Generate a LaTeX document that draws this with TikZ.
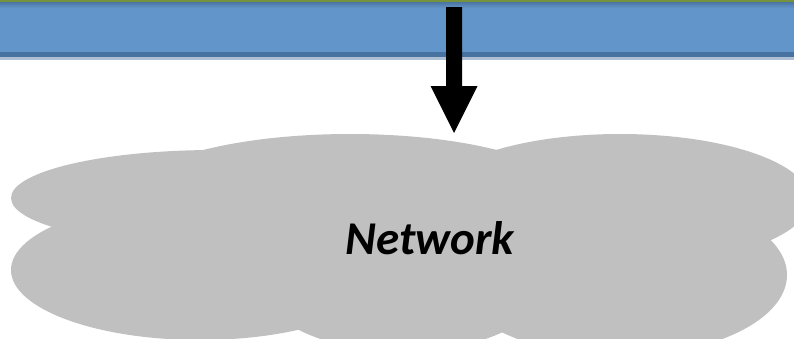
\documentclass[tikz,border=0pt]{standalone}
\usepackage{fontspec}
\setmainfont{Carlito}
\definecolor{cloudgray}{RGB}{191,192,191}
\definecolor{barblue}{RGB}{98,149,201}
\definecolor{bardark}{RGB}{72,114,160}
\definecolor{barlight}{RGB}{176,192,212}
\definecolor{olive}{RGB}{118,146,60}
\tikzset{
  lobe/.style={fill=cloudgray, draw=none},
  arrowfill/.style={fill=black, draw=none},
  labeltext/.style={font=\fontsize{47}{54}\selectfont\bfseries\itshape, text=black, inner sep=0pt, anchor=base}
}
\begin{document}
\begin{tikzpicture}[x=1pt,y=-1pt]
\useasboundingbox (0,0) rectangle (794,338);
\clip (0,0) rectangle (794,338);
% bar
\fill[barlight] (0,0) rectangle (794,59.5);
\fill[bardark] (0,0) rectangle (794,57);
\fill[barblue] (0,8) rectangle (794,51.5);
\shade[top color=bardark, bottom color=barblue] (0,1.5) rectangle (794,8);
\fill[olive] (0,0) rectangle (794,1.6);
% cloud
\fill[lobe] (215,198) ellipse [x radius=204pt, y radius=48pt];
\fill[lobe] (350,200) ellipse [x radius=225pt, y radius=66pt];
\fill[lobe] (620,200) ellipse [x radius=190pt, y radius=66pt];
\fill[lobe] (620,275) ellipse [x radius=167pt, y radius=81pt];
\fill[lobe] (200,270) ellipse [x radius=189pt, y radius=70pt];
\fill[lobe] (403,272) ellipse [x radius=151pt, y radius=80pt];
\fill[lobe] (420,240) ellipse [x radius=320pt, y radius=70pt];
% arrow
\coordinate (src) at (454,7);
\coordinate (dst) at (454,133);
\fill[arrowfill] ([xshift=-8pt]src) -- ([xshift=8pt]src) -- (462,86) -- (477.5,86) -- (dst) -- (430.5,86) -- (446,86) -- cycle;
% label
\node[labeltext] (net) at (430,254) {Network};
\end{tikzpicture}
\end{document}
